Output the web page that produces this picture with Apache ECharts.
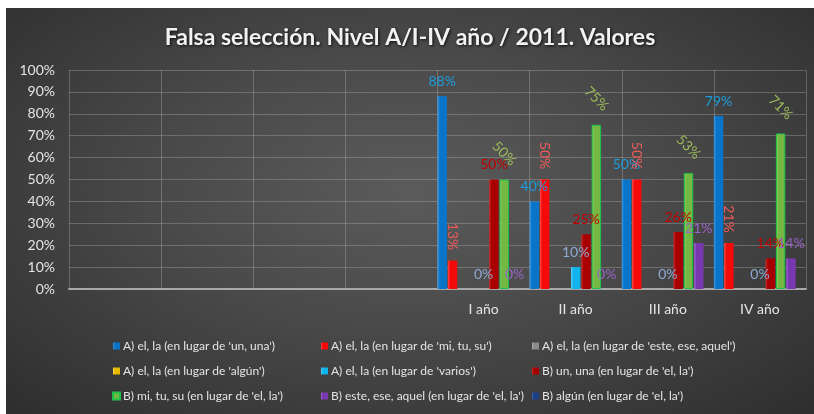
<!DOCTYPE html>
<html>
<head>
<meta charset="utf-8">
<script src="https://cdn.jsdelivr.net/npm/echarts@6/dist/echarts.min.js"></script>
<style>
  body{margin:0;background:#fff;}
  #main{position:absolute;left:6px;top:8px;width:808px;height:406px;
    background:radial-gradient(ellipse at 50% 45%, #5b5b5b 0%, #494949 45%, #2e2e2e 100%);}
</style>
</head>
<body>
<div id="main"></div>
<script>
var categories = ['', '', '', '', 'I año', 'II año', 'III año', 'IV año'];
var yTicks = [0, 10, 20, 30, 40, 50, 60, 70, 80, 90, 100];

var seriesNames = [
  "A) el, la (en lugar de 'un, una')",
  "A) el, la (en lugar de 'mi, tu, su')",
  "A) el, la (en lugar de 'este, ese, aquel')",
  "A) el, la (en lugar de 'algún')",
  "A) el, la (en lugar de 'varios')",
  "B) un, una (en lugar de 'el, la')",
  "B) mi, tu, su (en lugar de 'el, la')",
  "B) este, ese, aquel (en lugar de 'el, la')",
  "B) algún (en lugar de 'el, la')"
];

// values per year (I..IV año), percent; null = no value
var unUna      = [88, 40, 50, 79];
var miTuSu     = [13, 50, 50, 21];
var esteEse    = [null, null, null, null];
var algun      = [null, null, null, null];
var varios     = [0, 10, 0, 0];
var bUnUna     = [50, 25, 26, 14];
var bMiTuSu    = [50, 75, 53, 71];
var bEsteEse   = [0, 0, 21, 14];
var bAlgun     = [null, null, null, null];

var values = [unUna, miTuSu, esteEse, algun, varios, bUnUna, bMiTuSu, bEsteEse, bAlgun];

var barColors  = ['#0a74c8', '#f50a0a', '#8a8a8a', '#e6b800', '#12b4ee', '#a80000', '#74b843', '#7a38b0', '#1d3f8a'];
var edgeColors = ['#3a9ae6', '#ff4a4a', '#b0b0b0', '#ffd84a', '#5ad2ff', '#d02a2a', '#a6e070', '#a066d6', '#3c64b8'];
var labelColors = ['#1c9ede', '#f05a5a', '#aaaaaa', '#e6b800', '#8eaad6', '#c00000', '#9bbb59', '#9a64c8', '#4f6fb0'];
var labelRotate = [0, -90, 0, 0, 0, 0, -45, 0, 0];
var labelDist   = [8, 24, 8, 8, 8, 8, 26, 8, 8];

var font = 'Lato, "Open Sans", sans-serif';

var myChart = echarts.init(document.getElementById('main'));

var series = [];
for (var i = 0; i < seriesNames.length; i++) {
  var d = [null, null, null, null].concat(values[i]);
  var rotated = labelRotate[i] !== 0;
  series.push({
    name: seriesNames[i],
    type: 'bar',
    data: d,
    barGap: '10%',
    barCategoryGap: '0%',
    itemStyle: {
      color: {
        type: 'linear', x: 0, y: 0, x2: 1, y2: 0,
        colorStops: [
          {offset: 0, color: edgeColors[i]},
          {offset: 0.25, color: barColors[i]},
          {offset: 0.75, color: barColors[i]},
          {offset: 1, color: barColors[i]}
        ]
      },
      borderColor: i === 6 ? '#1ec24a' : 'rgba(0,0,0,0)',
      borderWidth: i === 6 ? 1 : 0
    },
    label: {
      show: true,
      position: 'top',
      distance: labelDist[i],
      rotate: labelRotate[i],
      align: 'center',
      verticalAlign: rotated ? 'middle' : 'bottom',
      color: labelColors[i],
      fontFamily: font,
      fontSize: 14,
      formatter: function (p) {
        return p.value == null ? '' : p.value + '%';
      }
    }
  });
}

var legendCols = [[0, 3, 6], [1, 4, 7], [2, 5, 8]];
var legendLeft = [101, 310, 521];
var legends = legendCols.map(function (col, k) {
  return {
    orient: 'vertical',
    left: legendLeft[k],
    top: 327,
    itemWidth: 7,
    itemHeight: 7,
    itemGap: 13,
    icon: 'rect',
    selectedMode: false,
    data: col.map(function (j) { return seriesNames[j]; }),
    textStyle: {color: '#e4e4e4', fontFamily: font, fontSize: 12, padding: [0, 0, 0, -2]}
  };
});

var option = {
  backgroundColor: 'transparent',
  animation: false,
  title: {
    text: 'Falsa selección. Nivel A/I-IV año / 2011. Valores',
    left: 'center',
    top: 13,
    textStyle: {
      color: '#f2f2f2',
      fontFamily: font,
      fontSize: 23,
      fontWeight: 'bold',
      textShadowColor: 'rgba(0,0,0,0.8)',
      textShadowBlur: 3,
      textShadowOffsetX: 1,
      textShadowOffsetY: 1
    }
  },
  legend: legends,
  grid: {left: 63, right: 8, top: 62, bottom: 125},
  xAxis: {
    type: 'category',
    data: categories,
    axisLine: {lineStyle: {color: '#a8a8a8', width: 2}},
    axisTick: {show: false},
    splitLine: {show: true, lineStyle: {color: 'rgba(200,200,200,0.3)', width: 1}},
    axisLabel: {color: '#e4e4e4', fontFamily: font, fontSize: 14, margin: 13}
  },
  yAxis: {
    type: 'value',
    min: yTicks[0],
    max: yTicks[yTicks.length - 1],
    interval: 10,
    axisLine: {show: false},
    axisTick: {show: false},
    splitLine: {lineStyle: {color: 'rgba(200,200,200,0.3)', width: 1}},
    axisLabel: {
      color: '#e4e4e4', fontFamily: font, fontSize: 14, margin: 14,
      formatter: '{value}%'
    }
  },
  series: series
};
myChart.setOption(option);
</script>
</body>
</html>
